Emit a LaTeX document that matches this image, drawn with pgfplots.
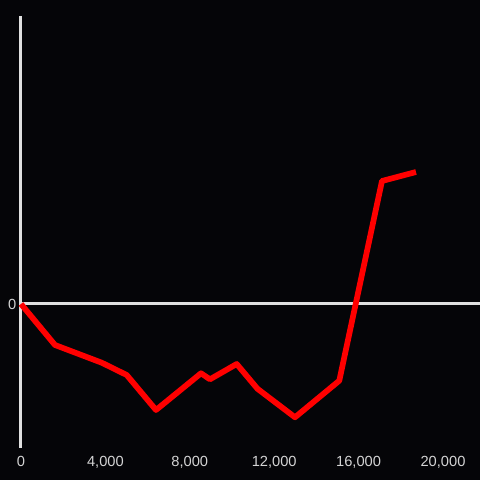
\documentclass[border=0pt]{standalone}
\usepackage{pgfplots}
\pgfplotsset{compat=1.18}
\usepackage{fontspec}
\setmainfont{Liberation Sans}
\definecolor{bg}{HTML}{050508}
\definecolor{ax}{HTML}{E0E0E0}
\definecolor{lbl}{HTML}{D4D4D4}
\begin{document}
\begin{tikzpicture}
\useasboundingbox (0pt,0pt) rectangle (360pt,360pt);
\fill[bg] (0pt,0pt) rectangle (360pt,360pt);
\begin{axis}[
  at={(15.75pt,24pt)}, anchor=south west,
  scale only axis, width=344.25pt, height=324pt,
  xmin=0, xmax=21754, ymin=-144, ymax=288,
  axis line style={draw=none},
  xtick={0,4000,8000,12000,16000,20000},
  scaled x ticks=false,
  ytick={0},
  major tick length=0pt,
  ymajorgrids, grid style={ax, line width=2.25pt},
  tick label style={font=\fontsize{11}{13}\selectfont, text=lbl},
  /pgf/number format/assume math mode=true,
  /pgf/number format/1000 sep={,},
  xticklabel style={yshift=-2.8pt},
  clip=false,
]
\draw[ax, line width=2.25pt] (rel axis cs:0,0) -- (rel axis cs:0,1);
\addplot[red, line width=4.3pt, line join=round, no marks] coordinates {
(0,0) (1611,-41) (3825,-58.7) (5010,-71) (6398,-106) (8531,-69.3)
(8957,-75.3) (10223,-60) (11209,-84.8) (12986,-113.3) (15085,-76.7)
(17109,123) (18720,132)
};
\end{axis}
\end{tikzpicture}
\end{document}
